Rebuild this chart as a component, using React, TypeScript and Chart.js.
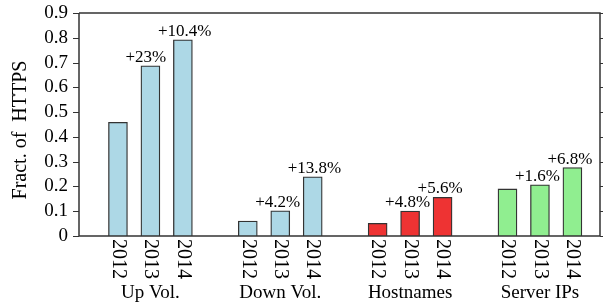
import React, { useEffect, useRef } from "react";
import Chart from "chart.js/auto";

const groups = ["Up Vol.", "Down Vol.", "Hostnames", "Server IPs"];
const years = ["2012", "2013", "2014"];
const upVol = [0.459, 0.687, 0.792];
const downVol = [0.06, 0.102, 0.239];
const hostnames = [0.051, 0.101, 0.156];
const serverIPs = [0.19, 0.207, 0.276];
const upVolGrowth = ["", "+23%", "+10.4%"];
const downVolGrowth = ["", "+4.2%", "+13.8%"];
const hostnamesGrowth = ["", "+4.8%", "+5.6%"];
const serverIPsGrowth = ["", "+1.6%", "+6.8%"];
const yTicks = [0, 0.1, 0.2, 0.3, 0.4, 0.5, 0.6, 0.7, 0.8, 0.9];

const seriesValues = [upVol, downVol, hostnames, serverIPs];
const seriesGrowth = [upVolGrowth, downVolGrowth, hostnamesGrowth, serverIPsGrowth];
const groupColors = ["#add8e6", "#add8e6", "#ee3333", "#90ee90"];

const FONT = '"Liberation Serif", "DejaVu Serif", serif';

export default function App() {
  const ref = useRef<HTMLCanvasElement | null>(null);
  useEffect(() => {
    if (!ref.current) return;
    const slot = (gi: number, yi: number) => gi * 4 + yi + 1;
    const datasets = seriesValues.map((vals, gi) => ({
      label: groups[gi],
      data: vals.map((v, yi) => ({ x: slot(gi, yi), y: v })),
      backgroundColor: groupColors[gi],
      borderColor: "#333333",
      borderWidth: 1.3,
      barThickness: 19,
      grouped: false,
    }));

    const overlay = {
      id: "overlay",
      afterDraw(chart: any) {
        const ctx = chart.ctx;
        const { left, right, top, bottom } = chart.chartArea;
        const xs = chart.scales.x;
        const ys = chart.scales.y;
        ctx.save();
        ctx.strokeStyle = "#333333";
        ctx.lineWidth = 1.5;
        ctx.beginPath();
        ctx.moveTo(left, top);
        ctx.lineTo(right, top);
        ctx.lineTo(right, bottom);
        ctx.moveTo(left, bottom);
        ctx.lineTo(right, bottom);
        ctx.moveTo(left, top);
        ctx.lineTo(left, bottom);
        ctx.stroke();
        ctx.lineWidth = 1;
        ctx.beginPath();
        yTicks.forEach((t) => {
          const py = Math.round(ys.getPixelForValue(t)) + 0.5;
          ctx.moveTo(left - 6, py);
          ctx.lineTo(left, py);
          ctx.moveTo(right, py);
          ctx.lineTo(right + 3, py);
        });
        ctx.stroke();

        ctx.fillStyle = "#000";
        ctx.save();
        ctx.translate(21, 130);
        ctx.rotate(-Math.PI / 2);
        ctx.font = `20px ${FONT}`;
        ctx.textAlign = "center";
        ctx.textBaseline = "middle";
        ctx.fillText("Fract. of  HTTPS", 0, 0);
        ctx.restore();

        seriesValues.forEach((vals, gi) => {
          vals.forEach((v, yi) => {
            const px = xs.getPixelForValue(slot(gi, yi));
            ctx.save();
            ctx.translate(px, bottom + 3);
            ctx.rotate(Math.PI / 2);
            ctx.font = `20px ${FONT}`;
            ctx.textAlign = "left";
            ctx.textBaseline = "middle";
            ctx.fillText(years[yi], 0, 0);
            ctx.restore();
            const g = seriesGrowth[gi][yi];
            if (g) {
              ctx.font = `17px ${FONT}`;
              ctx.textAlign = "left";
              ctx.textBaseline = "alphabetic";
              ctx.fillText(g, px - 25, ys.getPixelForValue(v) - 4);
            }
          });
          const cx = xs.getPixelForValue(slot(gi, 1));
          ctx.font = `19px ${FONT}`;
          ctx.textAlign = "center";
          ctx.textBaseline = "alphabetic";
          ctx.fillText(groups[gi], cx, 298);
        });
        ctx.restore();
      },
    };

    const chart = new Chart(ref.current, {
      type: "bar",
      data: { datasets },
      plugins: [overlay],
      options: {
        animation: false,
        responsive: false,
        maintainAspectRatio: false,
        layout: { padding: { top: 13, right: 3, left: 0, bottom: 0 } },
        plugins: { legend: { display: false }, tooltip: { enabled: false } },
        scales: {
          x: {
            type: "linear",
            offset: false,
            min: -0.2,
            max: 15.85,
            grid: { display: false, drawTicks: false },
            border: { display: false },
            ticks: { display: false },
            afterFit: (s: any) => {
              s.height = 69;
            },
          },
          y: {
            min: 0,
            max: 0.9,
            grid: { display: false, drawTicks: false },
            border: { display: false },
            afterFit: (s: any) => {
              s.width = 79;
              s.paddingTop = 0;
              s.paddingBottom = 0;
            },
            ticks: {
              stepSize: 0.1,
              autoSkip: false,
              padding: 11,
              color: "#000",
              font: { family: FONT, size: 19 },
              callback: (v: any) => String(Math.round(Number(v) * 10) / 10),
            },
          },
        },
      },
    });
    return () => chart.destroy();
  }, []);
  return (
    <div style={{ position: "fixed", left: 0, top: 0, width: 603, height: 305, background: "#fff" }}>
      <canvas ref={ref} width={603} height={305} style={{ width: 603, height: 305 }} />
    </div>
  );
}
